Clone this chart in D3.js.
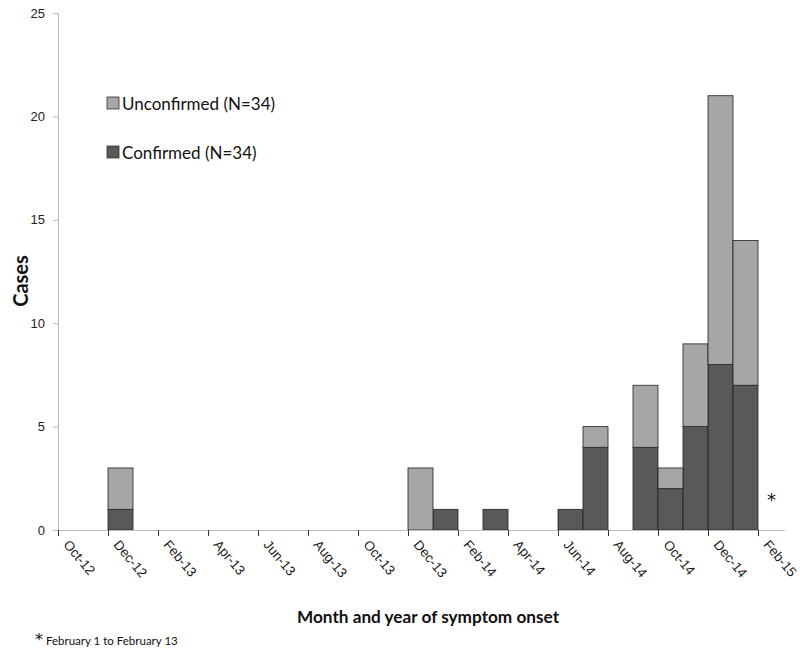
<!DOCTYPE html>
<html>
<head>
<meta charset="utf-8">
<script src="https://cdn.jsdelivr.net/npm/d3@7"></script>
<style>
  body { margin: 0; background: #fff; }
  svg { font-family: Lato, "Open Sans", sans-serif; }
</style>
</head>
<body>
<script>
const width = 800; const height = 649;

// month of symptom onset, one entry per bar slot
const months = ["Oct-12","Nov-12","Dec-12","Jan-13","Feb-13","Mar-13","Apr-13","May-13","Jun-13",
  "Jul-13","Aug-13","Sep-13","Oct-13","Nov-13","Dec-13","Jan-14","Feb-14","Mar-14","Apr-14",
  "May-14","Jun-14","Jul-14","Aug-14","Sep-14","Oct-14","Nov-14","Dec-14","Jan-15","Feb-15"];
const confirmed   = [0,0,1,0,0,0,0,0,0,0,0,0,0,0,0,1,0,1,0,0,1,4,0,4,2,5,8,7,0];
const unconfirmed = [0,0,2,0,0,0,0,0,0,0,0,0,0,0,3,0,0,0,0,0,0,1,0,3,1,4,13,7,0];
const yTicks = [0,5,10,15,20,25];
const seriesNames = ["Unconfirmed (N=34)","Confirmed (N=34)"];
const colors = ["#a6a6a6","#595959"];

const mLeft = 58, mBottom = 530, mTop = 13;

const svg = d3.select("body").append("svg")
    .attr("width", width)
    .attr("height", height);

//X scale (month index -> px), bars fill one month slot each
let x = d3.scaleLinear().domain([0, months.length]).range([mLeft, mLeft + months.length*25]);
//Y scale
let y = d3.scaleLinear().domain([0, 25]).range([mBottom, mTop]);

// stack data
const rows = months.map((m,i) => ({month: m, i: i, confirmed: confirmed[i], unconfirmed: unconfirmed[i]}));
const stack = d3.stack().keys(["confirmed","unconfirmed"])(rows);

// y axis
const yAxis = svg.append("g")
    .attr("transform", "translate(" + mLeft + ",0)")
    .call(d3.axisLeft(y).tickValues(yTicks).tickSize(5).tickPadding(8));
yAxis.select(".domain").attr("stroke", "#bdbdbd");
yAxis.selectAll(".tick line").attr("stroke", "#bdbdbd");
yAxis.selectAll(".tick text").attr("font-size", 13).attr("fill", "#222");

// bars
svg.selectAll(".layer")
    .data(stack)
    .enter()
    .append("g")
    .attr("class","layer")
    .attr("fill", (d,k) => k === 0 ? colors[1] : colors[0])
    .selectAll("rect")
    .data(d => d.filter(p => p[1] > p[0]))
    .enter()
    .append("rect")
    .attr("x", d => x(d.data.i))
    .attr("width", d => x(d.data.i + 1) - x(d.data.i))
    .attr("y", d => y(d[1]))
    .attr("height", d => y(d[0]) - y(d[1]))
    .attr("stroke", "#222")
    .attr("stroke-width", 0.8);

// x axis, ticks every second month at slot start
const xTickIdx = months.map((m,i) => i).filter(i => i % 2 === 0);
const xAxis = svg.append("g")
    .attr("transform", "translate(0," + mBottom + ")")
    .call(d3.axisBottom(x).tickValues(xTickIdx).tickSize(6).tickFormat(i => months[i]));
xAxis.select(".domain").attr("d", "M" + (mLeft-5) + ",0.5H785").attr("stroke", "#bdbdbd");
xAxis.selectAll(".tick line").attr("stroke", "#333");
xAxis.selectAll(".tick text")
    .attr("font-size", 13.5)
    .attr("fill", "#1a1a1a")
    .attr("text-anchor", "start")
    .attr("transform", "translate(8,12) rotate(50)")
    .attr("dy", "0.35em")
    .attr("y", 0);

// axis titles
svg.append("text")
    .attr("transform", "translate(28,281) rotate(-90)")
    .attr("text-anchor", "middle")
    .attr("font-size", 20)
    .attr("font-weight", "bold")
    .attr("fill", "#111")
    .text("Cases");

svg.append("text")
    .attr("x", 428)
    .attr("y", 623)
    .attr("text-anchor", "middle")
    .attr("font-size", 17.2)
    .attr("font-weight", "bold")
    .attr("fill", "#111")
    .text("Month and year of symptom onset");

// legend
const legend = svg.selectAll(".legend")
    .data(seriesNames)
    .enter()
    .append("g")
    .attr("class","legend")
    .attr("transform", (d,k) => "translate(107," + (97 + k*49) + ")");
legend.append("rect")
    .attr("width", 12).attr("height", 12)
    .attr("fill", (d,k) => colors[k])
    .attr("stroke", "#333").attr("stroke-width", 0.8);
legend.append("text")
    .attr("x", 15).attr("y", 13)
    .attr("font-size", 17)
    .attr("fill", "#111")
    .text(d => d);

// asterisk for partial month
svg.append("text")
    .attr("x", x(months.length - 1) + 9)
    .attr("y", 506)
    .attr("font-family", "DejaVu Sans")
    .attr("font-size", 18)
    .attr("fill", "#111")
    .text("*");

// footnote
const note = svg.append("text")
    .attr("x", 35)
    .attr("y", 645)
    .attr("fill", "#111");
note.append("tspan").attr("font-family", "DejaVu Sans").attr("font-size", 16).text("*");
note.append("tspan").attr("font-size", 11.5).attr("dx", 3).text("February 1 to February 13");
</script>
</body>
</html>
